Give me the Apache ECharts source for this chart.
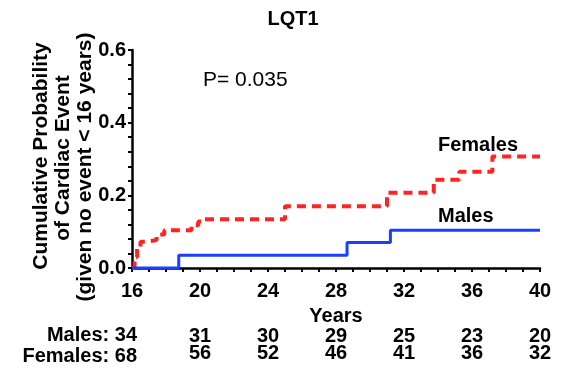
<!DOCTYPE html>
<html>
<head>
<meta charset="utf-8">
<script src="https://cdn.jsdelivr.net/npm/echarts@6/dist/echarts.min.js"></script>
<style>
  html, body { margin: 0; padding: 0; background: #fff; }
  #chart { width: 563px; height: 375px; }
</style>
</head>
<body>
<div id="chart"></div>
<script>
// Cumulative probability of a cardiac event, LQT1, by sex (step curves)
var yearTicks = [16, 20, 24, 28, 32, 36, 40];
var malesAtRisk = [34, 31, 30, 29, 25, 23, 20];
var femalesAtRisk = [68, 56, 52, 46, 41, 36, 32];

// [age in years, cumulative probability]
var femalesCurve = [
  [16, 0], [16.15, 0.03], [16.3, 0.055], [16.5, 0.072], [16.8, 0.077],
  [17.45, 0.092], [17.9, 0.104], [19.5, 0.118], [19.9, 0.128], [20.2, 0.134],
  [25.0, 0.170], [31.0, 0.207], [33.75, 0.243], [35.25, 0.265], [37.2, 0.307],
  [40, 0.307]
];
var malesCurve = [
  [16, 0], [18.75, 0.035], [28.65, 0.070], [31.2, 0.104], [40, 0.104]
];

var pValueText = 'P= 0.035';
var titleText = 'LQT1';
var yTitleLines = ['Cumulative Probability', 'of Cardiac Event', '(given no event < 16 years)'];

var FONT = '"Liberation Sans", Arial, Helvetica, sans-serif';
var RED = '#ff2424';
var BLUE = '#1a3fff';

function atRiskFormatter(list) {
  return function (v) {
    var i = yearTicks.indexOf(Math.round(v));
    if (i <= 0) return '';
    return String(list[i]);
  };
}

function riskAxis(list, offset) {
  return {
    type: 'value', min: 16, max: 40, interval: 4, position: 'bottom', offset: offset,
    axisLine: { show: false }, axisTick: { show: false }, splitLine: { show: false },
    axisLabel: { formatter: atRiskFormatter(list), color: '#000', fontSize: 20,
                 fontWeight: 'bold', fontFamily: FONT, margin: 8 }
  };
}

var chart = echarts.init(document.getElementById('chart'), null, { renderer: 'canvas' });
chart.setOption({
  animation: false,
  backgroundColor: '#fff',
  textStyle: { fontFamily: FONT },
  title: {
    text: titleText, left: 288, top: 4, textAlign: 'center',
    textStyle: { fontSize: 20, fontWeight: 'bold', color: '#000', fontFamily: FONT }
  },
  grid: { left: 132, right: 23, top: 50, bottom: 107 },
  xAxis: [{
    type: 'value', min: 16, max: 40, interval: 4,
    name: 'Years', nameLocation: 'middle', nameGap: 38,
    nameTextStyle: { fontSize: 20, fontWeight: 'bold', color: '#000', fontFamily: FONT },
    axisLine: { lineStyle: { color: '#000', width: 2.5 } },
    axisTick: { length: 4, lineStyle: { color: '#000', width: 2 } },
    minorTick: { show: true, splitNumber: 4, length: 4, lineStyle: { color: '#000', width: 2 } },
    splitLine: { show: false },
    axisLabel: { color: '#000', fontSize: 20, fontWeight: 'bold', fontFamily: FONT, margin: 13 }
  },
  riskAxis(malesAtRisk, 50),
  riskAxis(femalesAtRisk, 67)],
  yAxis: {
    type: 'value', min: 0, max: 0.6, interval: 0.2,
    axisLine: { show: true, lineStyle: { color: '#000', width: 2.5 } },
    axisTick: { show: true, length: 4, lineStyle: { color: '#000', width: 2 } },
    minorTick: { show: true, splitNumber: 5, length: 4, lineStyle: { color: '#000', width: 2 } },
    splitLine: { show: false },
    axisLabel: { color: '#000', fontSize: 20, fontWeight: 'bold', fontFamily: FONT, margin: 6,
                 formatter: function (v) { return v.toFixed(1); } }
  },
  series: [
    {
      name: 'Females', type: 'line', step: 'end', data: femalesCurve,
      showSymbol: false, clip: false,
      lineStyle: { color: RED, width: 4, type: [9, 6] }
    },
    {
      name: 'Males', type: 'line', step: 'end', data: malesCurve,
      showSymbol: false, clip: false,
      lineStyle: { color: BLUE, width: 3 }
    }
  ],
  graphic: [
    { type: 'text', x: 41, y: 156, rotation: Math.PI / 2,
      style: { text: yTitleLines[0], font: 'bold 21px ' + FONT, fill: '#000', align: 'center', verticalAlign: 'middle' } },
    { type: 'text', x: 63, y: 158, rotation: Math.PI / 2,
      style: { text: yTitleLines[1], font: 'bold 21px ' + FONT, fill: '#000', align: 'center', verticalAlign: 'middle' } },
    { type: 'text', x: 85, y: 167, rotation: Math.PI / 2,
      style: { text: yTitleLines[2], font: 'bold 21px ' + FONT, fill: '#000', align: 'center', verticalAlign: 'middle' } },
    { type: 'text', x: 203, y: 80,
      style: { text: pValueText, font: '21px ' + FONT, fill: '#000', align: 'left', verticalAlign: 'middle' } },
    { type: 'text', x: 438, y: 145,
      style: { text: 'Females', font: 'bold 20px ' + FONT, fill: '#000', align: 'left', verticalAlign: 'middle' } },
    { type: 'text', x: 438, y: 216,
      style: { text: 'Males', font: 'bold 20px ' + FONT, fill: '#000', align: 'left', verticalAlign: 'middle' } },
    { type: 'text', x: 137, y: 335,
      style: { text: 'Males: ' + malesAtRisk[0], font: 'bold 20px ' + FONT, fill: '#000', align: 'right', verticalAlign: 'middle' } },
    { type: 'text', x: 137, y: 356,
      style: { text: 'Females: ' + femalesAtRisk[0], font: 'bold 20px ' + FONT, fill: '#000', align: 'right', verticalAlign: 'middle' } }
  ]
});
</script>
</body>
</html>
